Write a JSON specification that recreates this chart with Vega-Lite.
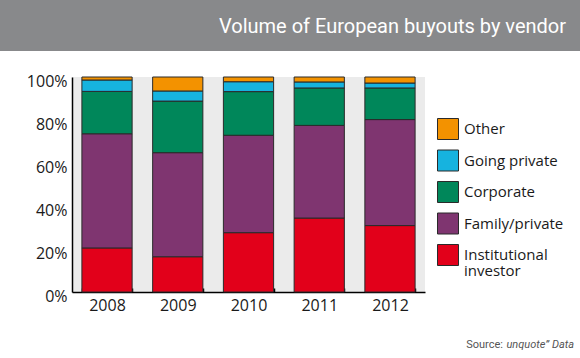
{
  "$schema": "https://vega.github.io/schema/vega-lite/v6.json",
  "padding": 0,
  "spacing": 22,
  "background": "white",
  "config": {"view": {"stroke": null}, "font": "Open Sans", "style": {"guide-label": {"lineHeight": 16}}},
  "vconcat": [
    {
      "width": 580,
      "height": 51,
      "view": {"fill": "#88898b", "stroke": null},
      "data": {"values": [{"title": "Volume of European buyouts by vendor"}]},
      "mark": {"type": "text", "align": "right", "baseline": "middle", "dx": -14, "dy": 1, "fontSize": 20, "font": "Roboto", "color": "white"},
      "encoding": {"text": {"field": "title"}, "x": {"value": "width"}}
    },
    {
      "spacing": 25,
      "vconcat": [
        {
          "spacing": 0,
          "hconcat": [
            {"width": 1, "height": 1, "data": {"values": []}, "mark": "point", "encoding": {}},
            {
              "width": 353,
              "height": 215,
              "view": {"fill": "#ebebeb", "stroke": null},
              "data": {"values": [
                {"year": "2008", "vendor": "Institutional investor", "k": 1, "share": 20.5},
                {"year": "2008", "vendor": "Family/private", "k": 2, "share": 53.1},
                {"year": "2008", "vendor": "Corporate", "k": 3, "share": 19.7},
                {"year": "2008", "vendor": "Going private", "k": 4, "share": 5.3},
                {"year": "2008", "vendor": "Other", "k": 5, "share": 1.4},
                {"year": "2009", "vendor": "Institutional investor", "k": 1, "share": 16.4},
                {"year": "2009", "vendor": "Family/private", "k": 2, "share": 48.4},
                {"year": "2009", "vendor": "Corporate", "k": 3, "share": 24.0},
                {"year": "2009", "vendor": "Going private", "k": 4, "share": 4.7},
                {"year": "2009", "vendor": "Other", "k": 5, "share": 6.5},
                {"year": "2010", "vendor": "Institutional investor", "k": 1, "share": 27.6},
                {"year": "2010", "vendor": "Family/private", "k": 2, "share": 45.3},
                {"year": "2010", "vendor": "Corporate", "k": 3, "share": 20.3},
                {"year": "2010", "vendor": "Going private", "k": 4, "share": 4.6},
                {"year": "2010", "vendor": "Other", "k": 5, "share": 2.2},
                {"year": "2011", "vendor": "Institutional investor", "k": 1, "share": 34.4},
                {"year": "2011", "vendor": "Family/private", "k": 2, "share": 43.1},
                {"year": "2011", "vendor": "Corporate", "k": 3, "share": 17.4},
                {"year": "2011", "vendor": "Going private", "k": 4, "share": 2.8},
                {"year": "2011", "vendor": "Other", "k": 5, "share": 2.3},
                {"year": "2012", "vendor": "Institutional investor", "k": 1, "share": 30.9},
                {"year": "2012", "vendor": "Family/private", "k": 2, "share": 49.3},
                {"year": "2012", "vendor": "Corporate", "k": 3, "share": 14.7},
                {"year": "2012", "vendor": "Going private", "k": 4, "share": 2.3},
                {"year": "2012", "vendor": "Other", "k": 5, "share": 2.8}
              ]},
              "mark": {"type": "bar", "stroke": "#2a2a2a", "strokeWidth": 1},
              "encoding": {
                "x": {
                  "field": "year", "type": "nominal",
                  "scale": {"paddingInner": 0.29, "paddingOuter": 0.14},
                  "axis": {"title": null, "labelAngle": 0, "tickBand": "extent", "tickSize": -4, "tickColor": "black", "tickWidth": 1.5, "domainColor": "black", "domainWidth": 1.5, "labelFontSize": 16, "labelColor": "#1a1a1a", "labelPadding": 9}
                },
                "y": {
                  "field": "share", "type": "quantitative", "stack": "normalize",
                  "scale": {"domain": [0, 1]},
                  "axis": {"title": null, "values": [0, 0.2, 0.4, 0.6, 0.8, 1], "format": ".0%", "grid": false, "ticks": false, "domainColor": "black", "domainWidth": 1.5, "labelFontSize": 16, "labelColor": "#1a1a1a", "labelPadding": 5, "labelOffset": 4, "minExtent": 71}
                },
                "color": {
                  "field": "vendor", "type": "nominal",
                  "scale": {
                    "domain": ["Other", "Going private", "Corporate", "Family/private", "Institutional investor"],
                    "range": ["#f39200", "#16b3df", "#00875a", "#7f3570", "#e2001a"]
                  },
                  "legend": {
                    "orient": "none", "legendX": 437, "legendY": 118, "title": null,
                    "symbolType": "square", "symbolSize": 441, "symbolStrokeColor": "#2a2a2a", "symbolStrokeWidth": 1, "symbolOpacity": 1,
                    "labelFontSize": 15, "labelColor": "#1a1a1a", "labelOffset": 5, "rowPadding": 5.5, "padding": 0,
                    "labelExpr": "datum.label == 'Institutional investor' ? ['Institutional', 'investor'] : datum.label"
                  }
                },
                "order": {"field": "k", "type": "quantitative"}
              }
            }
          ]
        },
        {
          "width": 580,
          "height": 14,
          "layer": [
            {
              "data": {"values": [{"t": "unquote\u201d Data"}]},
              "mark": {"type": "text", "align": "right", "baseline": "middle", "dx": -6, "fontSize": 11, "fontStyle": "italic", "font": "Roboto", "color": "#555555"},
              "encoding": {"text": {"field": "t"}, "x": {"value": "width"}}
            },
            {
              "data": {"values": [{"t": "Source:"}]},
              "mark": {"type": "text", "align": "right", "baseline": "middle", "dx": -77, "fontSize": 11, "font": "Roboto", "color": "#555555"},
              "encoding": {"text": {"field": "t"}, "x": {"value": "width"}}
            }
          ]
        }
      ]
    }
  ]
}
